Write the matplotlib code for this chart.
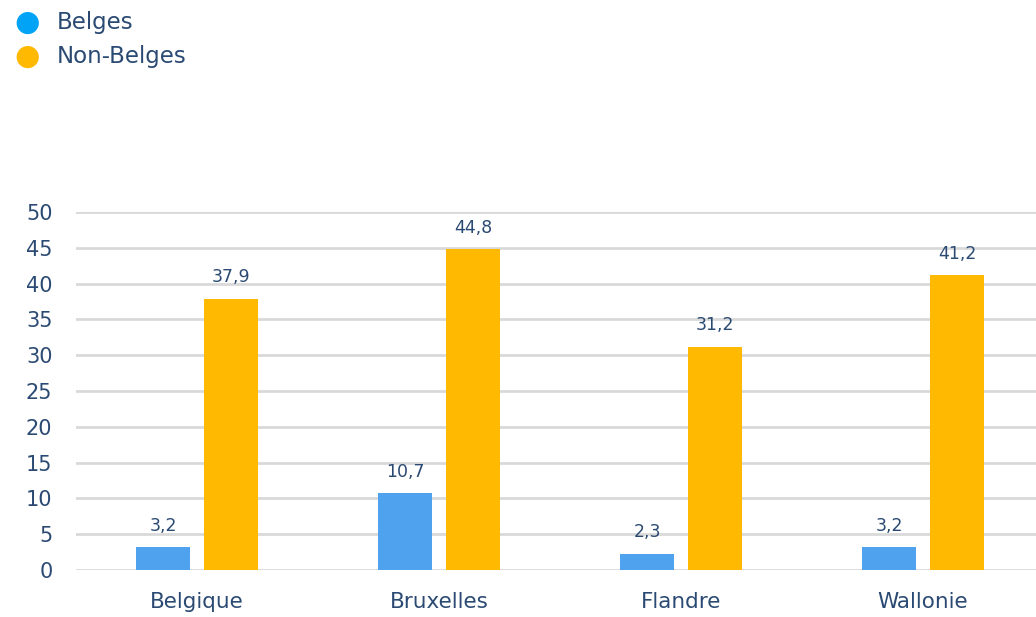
import matplotlib.pyplot as plt
import numpy as np

# data
regions = ["Belgique", "Bruxelles", "Flandre", "Wallonie"]
belges = [3.2, 10.7, 2.3, 3.2]
non_belges = [37.9, 44.8, 31.2, 41.2]
series_names = ["Belges", "Non-Belges"]

TEXT = "#2b4a73"
BLUE_BAR = "#4fa3ee"
BLUE_DOT = "#00a3f5"
ORANGE = "#ffb900"

plt.rcParams["font.family"] = ["DejaVu Sans"]

fig = plt.figure(figsize=(10.36, 6.17), dpi=100)
ax = fig.add_axes([76 / 1036, 47 / 617, 960 / 1036, 358 / 617])

x = np.arange(len(regions))
w = 0.225
off = 0.14
b1 = ax.bar(x - off, belges, w, color=BLUE_BAR, zorder=3)
b2 = ax.bar(x + off, non_belges, w, color=ORANGE, zorder=3)

def fmt(v):
    return f"{v:.1f}".replace(".", ",")

for bars, vals in ((b1, belges), (b2, non_belges)):
    for r, v in zip(bars, vals):
        ax.annotate(fmt(v), (r.get_x() + r.get_width() / 2, v),
                    xytext=(0, 9), textcoords="offset points",
                    ha="center", va="bottom", fontsize=12.5, color=TEXT)

ax.set_ylim(0, 50)
ax.set_yticks(range(0, 51, 5))
ax.set_xlim(-0.5, -0.5 + 960 / 242)
ax.set_xticks(x)
ax.set_xticklabels(regions)
ax.yaxis.grid(True, color="#d9d9d9", linewidth=2, zorder=0)
ax.set_axisbelow(True)
for s in ax.spines.values():
    s.set_visible(False)
ax.tick_params(axis="both", length=0, colors=TEXT)
ax.tick_params(axis="y", pad=17, labelsize=15)
ax.tick_params(axis="x", pad=16, labelsize=15.5)

# legend drawn as dots + text in figure coords
for i, (name, col) in enumerate(zip(series_names, [BLUE_DOT, ORANGE])):
    yy = 1 - (23 + 34 * i) / 617
    fig.text(27 / 1036, yy, "\u25CF", color=col, fontsize=21, ha="center", va="center")
    fig.text(57 / 1036, yy, name, color=TEXT, fontsize=16.5, ha="left", va="center")

fig.savefig("out.png", dpi=100)
